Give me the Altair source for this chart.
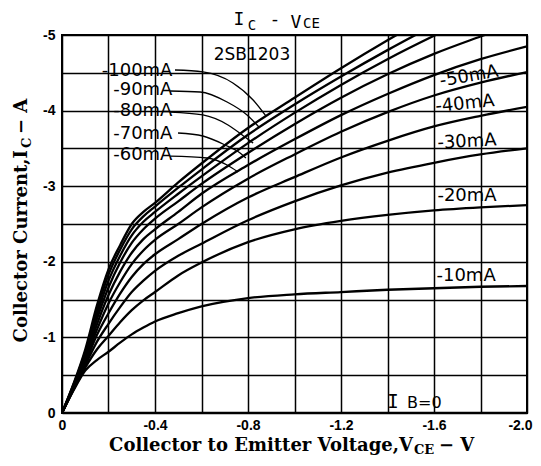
import altair as alt
import pandas as pd

# Collector-emitter voltage (V) sample points
V = [0, -0.05, -0.1, -0.15, -0.2, -0.25, -0.3, -0.35, -0.4, -0.5, -0.6,
     -0.8, -1.0, -1.2, -1.4, -1.6, -1.8, -2.0]

# Collector current (A) per base current curve
IB_0 = [0, 0, 0, 0, 0, 0, 0, 0, 0, 0, 0, 0, 0, 0, 0, 0, 0, 0]
IB_10 = [0, -0.30, -0.56, -0.70, -0.81, -0.93, -1.04, -1.13, -1.21, -1.32, -1.41, -1.52, -1.57, -1.60, -1.63, -1.65, -1.67, -1.68]
IB_20 = [0, -0.31, -0.60, -0.84, -1.02, -1.20, -1.36, -1.49, -1.60, -1.82, -1.99, -2.26, -2.43, -2.54, -2.62, -2.68, -2.72, -2.75]
IB_30 = [0, -0.32, -0.63, -0.94, -1.18, -1.40, -1.60, -1.75, -1.88, -2.08, -2.24, -2.55, -2.80, -3.01, -3.18, -3.31, -3.42, -3.50]
IB_40 = [0, -0.33, -0.66, -1.03, -1.32, -1.58, -1.80, -1.97, -2.10, -2.30, -2.50, -2.85, -3.12, -3.38, -3.60, -3.79, -3.93, -4.05]
IB_50 = [0, -0.34, -0.69, -1.10, -1.45, -1.73, -1.97, -2.15, -2.29, -2.50, -2.72, -3.10, -3.42, -3.72, -3.98, -4.20, -4.37, -4.51]
IB_60 = [0, -0.35, -0.72, -1.17, -1.56, -1.87, -2.12, -2.30, -2.43, -2.66, -2.90, -3.28, -3.62, -3.94, -4.22, -4.47, -4.68, -4.85]
IB_70 = [0, -0.36, -0.75, -1.24, -1.66, -1.99, -2.25, -2.43, -2.57, -2.80, -3.03, -3.44, -3.82, -4.17, -4.48, -4.75, -4.98, -5.20]
IB_80 = [0, -0.37, -0.78, -1.30, -1.75, -2.08, -2.35, -2.53, -2.66, -2.90, -3.13, -3.57, -3.97, -4.34, -4.68, -4.99, -5.28, None]
IB_90 = [0, -0.38, -0.81, -1.36, -1.83, -2.16, -2.43, -2.60, -2.73, -2.98, -3.22, -3.68, -4.08, -4.45, -4.80, -5.13, None, None]
IB_100 = [0, -0.39, -0.84, -1.42, -1.90, -2.22, -2.50, -2.66, -2.78, -3.05, -3.30, -3.77, -4.17, -4.56, -4.93, -5.28, None, None]

series = {"0": IB_0, "-10mA": IB_10, "-20mA": IB_20, "-30mA": IB_30, "-40mA": IB_40,
          "-50mA": IB_50, "-60mA": IB_60, "-70mA": IB_70, "-80mA": IB_80,
          "-90mA": IB_90, "-100mA": IB_100}

# Axis grid / tick values
x_grid = [0, -0.2, -0.4, -0.6, -0.8, -1.0, -1.2, -1.4, -1.6, -1.8, -2.0]
y_grid = [0, -0.5, -1, -1.5, -2, -2.5, -3, -3.5, -4, -4.5, -5]

# Curve labels (left group, with leader lines)
left_text = ["-100mA", "-90mA", "-80mA", "-70mA", "-60mA"]
left_v = [-0.475, -0.475, -0.475, -0.475, -0.475]
left_i = [-4.53, -4.27, -3.99, -3.69, -3.41]

# Leader lines from the left labels to their curves
lead_100_v = [-0.486, -0.606, -0.735, -0.822, -0.877]
lead_100_i = [-4.537, -4.511, -4.365, -4.140, -3.929]
lead_90_v = [-0.465, -0.594, -0.710, -0.796, -0.847]
lead_90_i = [-4.259, -4.246, -4.114, -3.942, -3.783]
lead_80_v = [-0.465, -0.606, -0.714, -0.787, -0.822]
lead_80_i = [-3.981, -3.942, -3.810, -3.651, -3.571]
lead_70_v = [-0.499, -0.606, -0.701, -0.766, -0.791]
lead_70_i = [-3.704, -3.664, -3.545, -3.439, -3.373]
lead_60_v = [-0.465, -0.624, -0.710, -0.757]
lead_60_i = [-3.399, -3.373, -3.280, -3.188]

# Curve labels (right group)
right_text = ["-50mA", "-40mA", "-30mA", "-20mA", "-10mA"]
right_v = [-1.751, -1.733, -1.742, -1.742, -1.738]
right_i = [-4.451, -4.087, -3.585, -2.870, -1.812]
right_angle = [350, 354, 357, 0, 0]

rows = []
for name, vals in series.items():
    for k, (v, i) in enumerate(zip(V, vals)):
        if i is not None:
            rows.append({"V": v, "I": i, "s": name, "k": k})
curves = pd.DataFrame(rows)

lrows = []
for name, lv, li in [("100", lead_100_v, lead_100_i), ("90", lead_90_v, lead_90_i),
                     ("80", lead_80_v, lead_80_i), ("70", lead_70_v, lead_70_i),
                     ("60", lead_60_v, lead_60_i)]:
    for k, (v, i) in enumerate(zip(lv, li)):
        lrows.append({"V": v, "I": i, "s": name, "k": k})
leaders = pd.DataFrame(lrows)

left_df = pd.DataFrame({"V": left_v, "I": left_i, "t": left_text})
right_df = pd.DataFrame({"V": right_v, "I": right_i, "t": right_text, "a": right_angle})

LABEL_FONT = "Liberation Sans"
CURVE_FONT = "DejaVu Sans"
SERIF = "DejaVu Serif"
MONO = "DejaVu Sans Mono"

xenc = alt.X("V:Q",
             scale=alt.Scale(domain=[0, -2], nice=False, zero=False),
             axis=alt.Axis(values=x_grid, title=None, grid=True, ticks=False, domain=False,
                           labelExpr="round(abs(datum.value)*10) % 4 == 0 ? (datum.value == 0 ? '0' : '-' + format(abs(datum.value), '.1f')) : ''",
                           labelAlign={"condition": {"test": "datum.value < -1.99", "value": "right"}, "value": "center"},
                           labelOffset={"condition": {"test": "datum.value < -1.99", "value": 5}, "value": 0},
                           labelFlush=False, labelOverlap=False, labelPadding=5,
                           labelFont=LABEL_FONT, labelFontSize=14, labelFontWeight="bold",
                           labelColor="black", gridColor="black", gridWidth=1.5, gridOpacity=1))
yenc = alt.Y("I:Q",
             scale=alt.Scale(domain=[0, -5], nice=False, zero=False),
             axis=alt.Axis(values=y_grid, title=None, grid=True, ticks=False, domain=False,
                           labelExpr="round(abs(datum.value)*2) % 2 == 0 ? (datum.value == 0 ? '0' : '-' + format(abs(datum.value), 'd')) : ''",
                           labelOverlap=False, labelPadding=7,
                           labelFont=LABEL_FONT, labelFontSize=14, labelFontWeight="bold",
                           labelColor="black", gridColor="black", gridWidth=1.5, gridOpacity=1))

lines = alt.Chart(curves).mark_line(color="black", strokeWidth=2.3, clip=True,
                                     interpolate="monotone").encode(
    x=xenc, y=yenc, detail="s:N", order="k:Q")

leader_lines = alt.Chart(leaders).mark_line(color="black", strokeWidth=1.3,
                                             interpolate="monotone").encode(
    x=xenc, y=yenc, detail="s:N", order="k:Q")

left_labels = alt.Chart(left_df).mark_text(align="right", baseline="middle", font=CURVE_FONT,
                                           fontSize=18, color="black").encode(
    x=xenc, y=yenc, text="t:N")

right_labels = alt.Chart(right_df).mark_text(align="center", baseline="middle", font=CURVE_FONT,
                                             fontSize=18, color="black").encode(
    x=xenc, y=yenc, text="t:N", angle=alt.Angle("a:Q", scale=None))

part_df = pd.DataFrame({"V": [-0.817], "I": [-4.735], "t": ["2SB1203"]})
part_label = alt.Chart(part_df).mark_text(align="center", baseline="middle", font=CURVE_FONT,
                                          fontSize=17, color="black").encode(
    x=xenc, y=yenc, text="t:N")

ib0_i_df = pd.DataFrame({"V": [-1.424], "I": [-0.066], "t": ["I"]})
ib0_i = alt.Chart(ib0_i_df).mark_text(align="center", baseline="alphabetic", font=MONO,
                                      fontSize=19, color="black").encode(
    x=xenc, y=yenc, text="t:N")
ib0_b_df = pd.DataFrame({"V": [-1.484], "I": [-0.066], "t": ["B=0"]})
ib0_b = alt.Chart(ib0_b_df).mark_text(align="left", baseline="alphabetic", font=CURVE_FONT,
                                      fontSize=16, color="black").encode(
    x=xenc, y=yenc, text="t:N")


def ptext(s, x, y, size, font, weight="normal", align="left", angle=0):
    return alt.Chart(pd.DataFrame({"t": [s]})).mark_text(
        align=align, baseline="alphabetic", font=font, fontSize=size,
        fontWeight=weight, angle=angle, color="black").encode(
        x=alt.value(x), y=alt.value(y), text="t:N")


texts = [
    # chart title  I_C - V_CE
    ptext("I", 177, -10, 18, MONO, align="center"),
    ptext("C", 190, -5, 14, MONO, align="center"),
    ptext("-", 213, -10, 18, MONO, align="center"),
    ptext("V", 234, -7, 18, MONO, align="center"),
    ptext("CE", 241, -7, 14, MONO, align="left"),
    # x axis title
    ptext("Collector to Emitter Voltage,V", 351, 416, 18, SERIF, "bold", align="right"),
    ptext("CE", 352, 419, 13, SERIF, "bold", align="left"),
    ptext("− V", 377, 416, 18, SERIF, "bold", align="left"),
    # y axis title
    ptext("Collector Current,I", -35, 115, 18, SERIF, "bold", align="right", angle=270),
    ptext("C", -31, 113, 13, SERIF, "bold", align="left", angle=270),
    ptext("− A", -35, 99, 18, SERIF, "bold", align="left", angle=270),
]

chart = alt.layer(lines, leader_lines, left_labels, right_labels, part_label, ib0_i, ib0_b,
                  *texts).properties(
    width=465, height=378,
    autosize=alt.AutoSizeParams(type="none"),
    padding={"left": 54, "top": 27, "right": 6, "bottom": 45},
    background="white",
).configure_view(stroke="black", strokeWidth=2)

chart.save("out.html", embed_options={"renderer": "svg", "actions": False})
